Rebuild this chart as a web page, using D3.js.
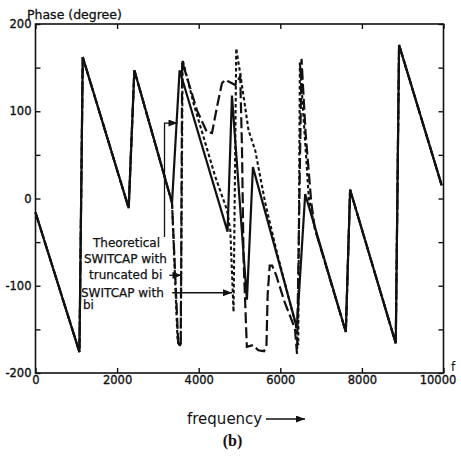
<!DOCTYPE html>
<html>
<head>
<meta charset="utf-8">
<script src="https://cdn.jsdelivr.net/npm/d3@7"></script>
<style>
  html, body { margin: 0; padding: 0; background: #fff; }
  svg { display: block; }
  text { font-family: "DejaVu Sans", sans-serif; fill: #111; }
</style>
</head>
<body>
<svg id="chart" width="461" height="458"></svg>
<script>
// ---------------- data ----------------
const xTickValues = [0, 2000, 4000, 6000, 8000, 10000];
const yTickValues = [-200, -150, -100, -50, 0, 50, 100, 150, 200];
const yLabelValues = [-200, -100, 0, 100, 200];

// Theoretical (solid)
const theoFreq  = [0, 1077, 1158, 2284, 2423, 3346, 3532, 4707, 4815, 5182, 5329, 6406, 6610, 7606, 7711, 8830, 8911, 9956];
const theoPhase = [-16, -176, 162, -11, 147, -5, 147, -38, 118, -116, 36, -148, 5, -153, 10, -166, 176, 15];

// SWITCAP with truncated bi (long dashes)
const truncFreq  = [0, 1077, 1158, 2284, 2423, 3346, 3500, 3560, 3595, 3958, 4203, 4326, 4448, 4570, 4650, 4732, 4896, 5018, 5060, 5100, 5180, 5330, 5460, 5600, 5660, 5690, 5740, 5800, 5900, 6100, 6300, 6360, 6410, 6520, 6620, 6760, 6850, 7606, 7711, 8830, 8911, 9956];
const truncPhase = [-16, -176, 162, -11, 147, -5, -168, -166, 157, 101, 76, 75, 105, 132, 136, 134, 130, 140, 60, -70, -170, -168, -174, -175, -170, -110, -77, -77, -88, -118, -142, -150, -178, 160, 75, -5, -35, -153, 10, -166, 176, 15];

// SWITCAP with bi (short dashes)
const biFreq  = [0, 1077, 1158, 2284, 2423, 3346, 3480, 3530, 3560, 3606, 3875, 4406, 4693, 4774, 4854, 4920, 5018, 5222, 5386, 5630, 5917, 6380, 6440, 6480, 6560, 6700, 6850, 7606, 7711, 8830, 8911, 9956];
const biPhase = [-16, -176, 162, -11, 147, -5, -160, -170, -166, 159, 109, 25, -13, -36, -130, 172, 143, 78, 55, -5, -62, -145, -168, 156, 100, 0, -35, -153, 10, -166, 176, 15];

const legendLines = ["Theoretical", "SWITCAP with", "truncated bi", "SWITCAP with", "bi"];

// pointer lines of the legend, in data units [freq, phase]
const ptrTheo  = [[3162, -44], [3162, 86.5], [3480, 86.5]];
const ptrTrunc = [[3280, -88], [3578, -88]];
const ptrBi    = [[3350, -108], [4816, -108]];

// ---------------- drawing ----------------
const svg = d3.select("#chart");
const L = 35.5, R = 443.5, T = 24, B = 373;

const x = d3.scaleLinear().domain([0, 10000]).range([L, R]);
const y = d3.scaleLinear().domain([-200, 200]).range([B, T]);

const defs = svg.append("defs");
defs.append("marker")
  .attr("id", "arr").attr("markerUnits", "userSpaceOnUse")
  .attr("markerWidth", 9).attr("markerHeight", 7)
  .attr("refX", 9).attr("refY", 3.5).attr("orient", "auto")
  .append("path").attr("d", "M0,0 L9,3.5 L0,7 Z").attr("fill", "#111");

// axes (ticks inward)
const gL = svg.append("g").attr("transform", `translate(${L},0)`)
  .call(d3.axisLeft(y).tickValues(yTickValues).tickSize(-5).tickPadding(4)
    .tickFormat(d => yLabelValues.includes(d) ? String(d) : ""));
const gR = svg.append("g").attr("transform", `translate(${R},0)`)
  .call(d3.axisRight(y).tickValues(yTickValues).tickSize(-5).tickFormat(""));
const gB = svg.append("g").attr("transform", `translate(0,${B})`)
  .call(d3.axisBottom(x).tickValues(xTickValues).tickSize(-5).tickPadding(3)
    .tickFormat(d => String(d)));
const gT = svg.append("g").attr("transform", `translate(0,${T})`)
  .call(d3.axisTop(x).tickValues(xTickValues).tickSize(-5).tickFormat(""));

[gL, gR, gB, gT].forEach(g => {
  g.select(".domain").remove();
  g.selectAll("line").attr("stroke", "#111").attr("stroke-width", 1.4);
  g.selectAll("text").style("font-family", "DejaVu Sans, sans-serif")
    .style("font-size", "11.5px").attr("fill", "#111")
    .attr("stroke", "#111").attr("stroke-width", 0.35);
});
gB.selectAll(".tick text").filter(d => d === 10000).attr("x", -6);

svg.append("rect")
  .attr("x", L).attr("y", T).attr("width", R - L).attr("height", B - T)
  .attr("fill", "none").attr("stroke", "#111").attr("stroke-width", 1.6);

const line = d3.line().x(d => x(d[0])).y(d => y(d[1]));
const zip = (a, b) => a.map((v, i) => [v, b[i]]);

svg.append("path").datum(zip(biFreq, biPhase))
  .attr("d", line).attr("fill", "none").attr("stroke", "#111")
  .attr("stroke-width", 2.1).attr("stroke-dasharray", "3.5,2.5");

svg.append("path").datum(zip(truncFreq, truncPhase))
  .attr("d", line).attr("fill", "none").attr("stroke", "#111")
  .attr("stroke-width", 2.2).attr("stroke-dasharray", "11,4");

svg.append("path").datum(zip(theoFreq, theoPhase))
  .attr("d", line).attr("fill", "none").attr("stroke", "#111")
  .attr("stroke-width", 2.2).attr("stroke-linejoin", "miter");

// legend pointers
[ptrTheo, ptrTrunc, ptrBi].forEach(p => {
  svg.append("path").datum(p).attr("d", line)
    .attr("fill", "none").attr("stroke", "#111").attr("stroke-width", 1.3)
    .attr("marker-end", "url(#arr)");
});

// legend text
const legendPos = [[93, 247], [84, 263], [89, 279], [81, 296.5], [83, 309]];
legendLines.forEach((t, i) => {
  svg.append("text").attr("x", legendPos[i][0]).attr("y", legendPos[i][1])
    .style("font-size", "12px").attr("stroke", "#111").attr("stroke-width", 0.25).text(t);
});

// titles
svg.append("text").attr("x", 27).attr("y", 19).style("font-size", "12.5px")
  .attr("stroke", "#111").attr("stroke-width", 0.3).text("Phase (degree)");
svg.append("text").attr("x", 451).attr("y", 371).style("font-size", "12px").text("f");
svg.append("text").attr("x", 187).attr("y", 424).style("font-size", "15px").text("frequency");
svg.append("line").attr("x1", 266).attr("x2", 305).attr("y1", 419).attr("y2", 419)
  .attr("stroke", "#111").attr("stroke-width", 1.3).attr("marker-end", "url(#arr)");
svg.append("text").attr("x", 232.5).attr("y", 446).attr("text-anchor", "middle")
  .style("font-family", "Liberation Serif, serif").style("font-weight", "bold")
  .style("font-size", "16px").text("(b)");
</script>
</body>
</html>
